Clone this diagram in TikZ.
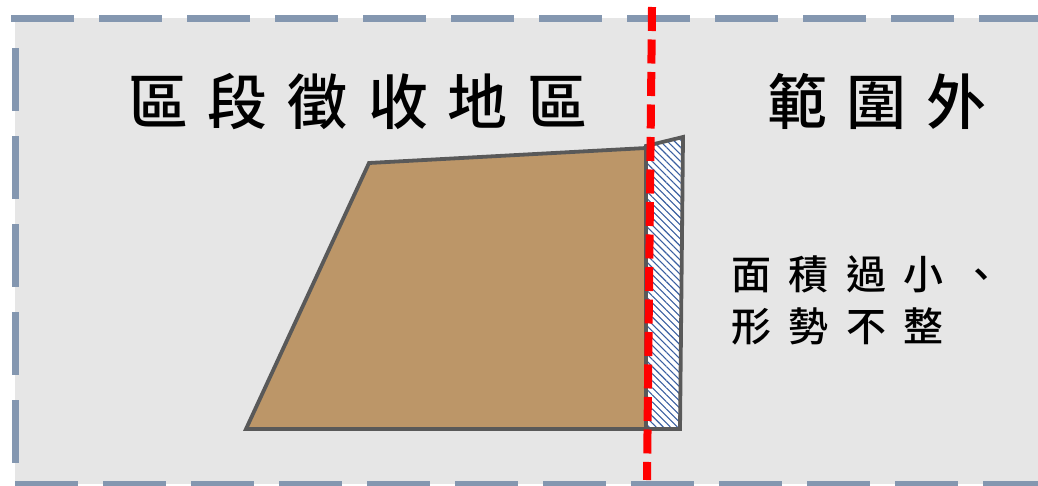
\documentclass[tikz,border=0pt]{standalone}
\usepackage{fontspec}
\newfontfamily\cjk{Noto Sans CJK TC Medium}
\usetikzlibrary{patterns.meta}
\definecolor{bggray}{HTML}{E6E6E6}
\definecolor{bordblue}{HTML}{8497B0}
\definecolor{landbrown}{HTML}{BC9668}
\definecolor{edgegray}{HTML}{595959}
\definecolor{hatchblue}{HTML}{3A5FA0}
\definecolor{redline}{HTML}{FF0000}
\tikzset{
  borderdash/.style={draw=bordblue, line width=7pt, dash pattern=on 63pt off 25pt},
  landedge/.style={draw=edgegray, line width=3.8pt, line join=miter},
  hatchfill/.style={pattern={Lines[angle=-45, distance=5pt, line width=1.1pt]}, pattern color=hatchblue},
  bigtxt/.style={font=\cjk\fontsize{60pt}{60pt}\selectfont, inner sep=0pt, anchor=base},
  smalltxt/.style={font=\cjk\fontsize{40pt}{40pt}\selectfont, inner sep=0pt, anchor=base west},
  cutline/.style={draw=redline, line width=8pt, dash pattern=on 24pt off 8.5pt}
}
\begin{document}
\begin{tikzpicture}[x=1pt, y=-1pt]
\useasboundingbox (0,0) rectangle (1038,485);
% background
\fill[bggray] (15,18) rectangle (1040,484);
% dashed border
\coordinate (tl) at (11,18.5);
\coordinate (tr) at (1045,18.5);
\coordinate (lt) at (15,48);
\coordinate (lb) at (15,484);
\coordinate (bl) at (15,484);
\coordinate (br) at (1045,484);
\draw[borderdash] (tl) -- (tr);
\draw[borderdash] (lt) -- (lb);
\draw[borderdash] (bl) -- (br);
% land parcel
\coordinate (p1) at (369,163);
\coordinate (p2) at (646,148);
\coordinate (p3) at (646,429);
\coordinate (p4) at (246,429);
\filldraw[fill=landbrown, landedge] (p1) -- (p2) -- (p3) -- (p4) -- cycle;
% hatched sliver
\coordinate (h1) at (646,146);
\coordinate (h2) at (683,137);
\coordinate (h3) at (680,429);
\coordinate (h4) at (646,429);
\fill[white] (h1) -- (h2) -- (h3) -- (h4) -- cycle;
\fill[hatchfill] (h1) -- (h2) -- (h3) -- (h4) -- cycle;
\draw[landedge] (h1) -- (h2) -- (h3) -- (h4) -- cycle;
% texts
\node[bigtxt] (zone) at (358,124) {區\kern20pt 段\kern20pt 徵\kern20pt 收\kern20pt 地\kern20pt 區};
\node[bigtxt] (outside) at (877,124) {範\kern20pt 圍\kern20pt 外};
\node[smalltxt] (note1) at (731,289) {面\kern17.5pt 積\kern17.5pt 過\kern17.5pt 小\kern17.5pt 、};
\node[smalltxt] (note2) at (731,341) {形\kern17.5pt 勢\kern17.5pt 不\kern17.5pt 整};
% boundary line
\coordinate (rtop) at (652,7);
\coordinate (rbot) at (647,480);
\draw[cutline] (rtop) -- (rbot);
\end{tikzpicture}
\end{document}
